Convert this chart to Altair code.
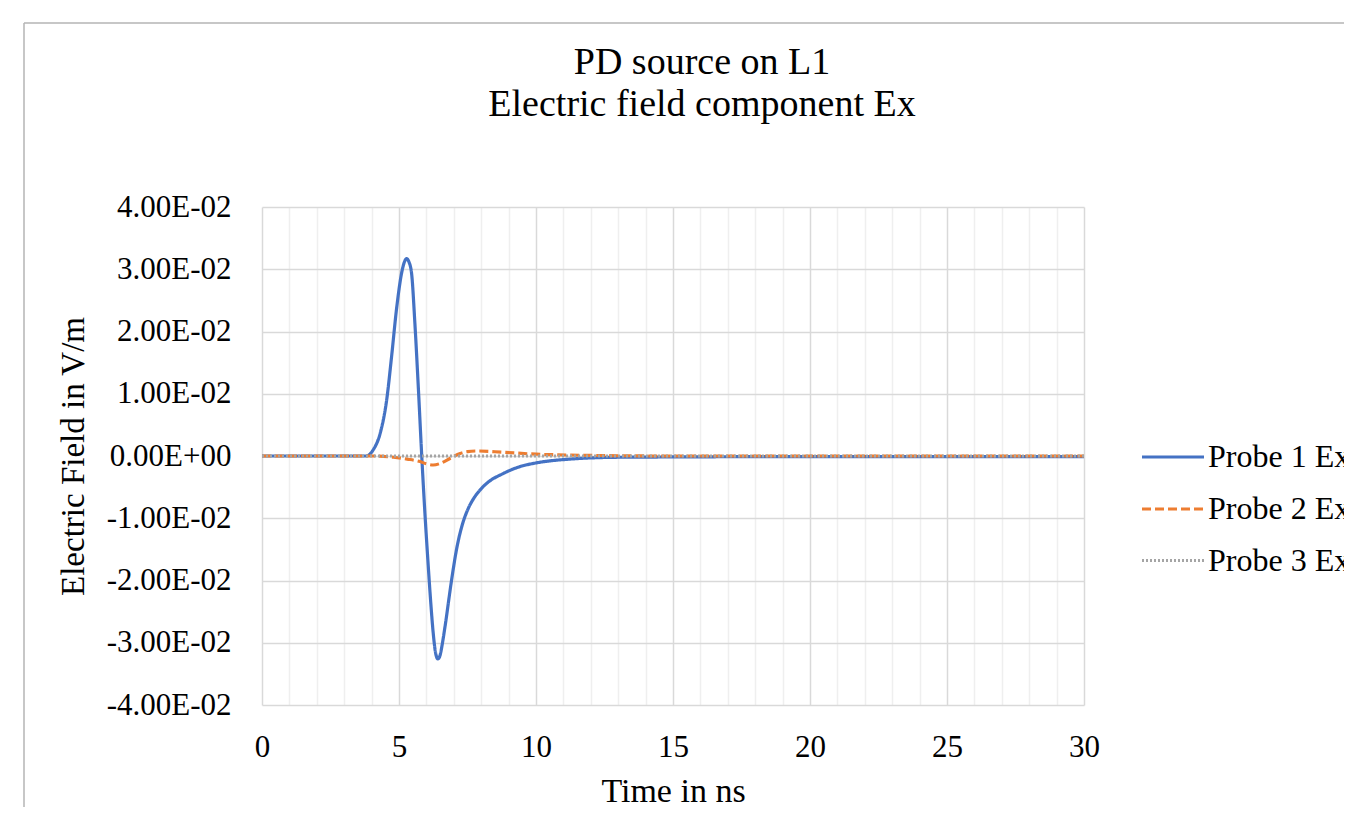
import altair as alt
import pandas as pd

# ---- data (values in V/m, time in ns) ----
probe1_t = [0, 3.0, 3.8, 4.06, 4.31, 4.55, 4.73, 4.92, 5.1, 5.2, 5.28, 5.36, 5.46, 5.58,
            5.71, 5.83, 5.95, 6.05, 6.15, 6.25, 6.33, 6.42, 6.5, 6.58, 6.68, 6.92, 7.10,
            7.3, 7.5, 7.7, 7.95, 8.20, 8.81, 9.42, 10.02, 11.24, 13.07, 20, 30]
probe1_v = [0, 0, 0.0, 0.0010, 0.0036, 0.0090, 0.0160, 0.0240, 0.0295, 0.0312, 0.0317,
            0.0312, 0.0293, 0.0213, 0.0106, 0.0, -0.0095, -0.0165, -0.0230, -0.0285,
            -0.0315, -0.0326, -0.0320, -0.0302, -0.0274, -0.0199, -0.0150,
            -0.0112, -0.0087, -0.0070, -0.0055, -0.0044, -0.0028, -0.0017, -0.0011,
            -0.0005, -0.0002, -0.0001, -0.0001]

probe2_t = [0, 4.0, 4.8, 5.3, 5.77, 6.0, 6.25, 6.5, 6.86, 7.23, 7.5, 7.83, 8.8, 10.0,
            11.2, 13, 15, 30]
probe2_v = [0, 0, -0.0002, -0.0005, -0.0009, -0.00125, -0.00145, -0.0012, -0.0004,
            0.0004, 0.0007, 0.0008, 0.0006, 0.0003, 0.00016, 0.00005, 0, 0]

probe3_t = [0, 30]
probe3_v = [0, 0]

series = ["Probe 1 Ex", "Probe 2 Ex", "Probe 3 Ex"]
colors = ["#4472c4", "#ed7d31", "#a5a5a5"]
dashes = [[1, 0], [9, 4], [2, 2]]

y_ticks = [-0.04, -0.03, -0.02, -0.01, 0, 0.01, 0.02, 0.03, 0.04]
x_ticks = list(range(0, 31))

rows = []
for name, ts, vs in zip(series, [probe1_t, probe2_t, probe3_t], [probe1_v, probe2_v, probe3_v]):
    for t, v in zip(ts, vs):
        rows.append({"series": name, "t": t, "v": v})
df = pd.DataFrame(rows)

FONT = "Liberation Serif"

lines = alt.Chart(df).mark_line(interpolate="monotone").encode(
    x=alt.X("t:Q", scale=alt.Scale(domain=[0, 30], nice=False),
            axis=alt.Axis(values=x_ticks,
                          labelExpr="datum.value % 5 === 0 ? datum.label : ''",
                          labelFlush=False,
                          title="Time in ns", titleX=411, titleY=86,
                          titleBaseline="middle", titleFontSize=34,
                          labelPadding=27, ticks=False, domain=False,
                          gridColor={"condition": {"test": "datum.value % 5 === 0", "value": "#d9d9d9"},
                                     "value": "#efefef"})),
    y=alt.Y("v:Q", scale=alt.Scale(domain=[-0.04, 0.04], nice=False),
            axis=alt.Axis(values=y_ticks,
                          labelExpr="datum.value == 0 ? '0.00E+00' : (datum.value < 0 ? '-' : '') + format(abs(datum.value) * 100, '.2f') + 'E-02'",
                          labelFlush=False,
                          title="Electric  Field  in  V/m", titleX=-189, titleY=249,
                          titleBaseline="middle", titleAngle=-90, titleAlign="center",
                          titleFontSize=33,
                          labelPadding=31, ticks=False, domain=False, gridColor="#d9d9d9")),
    color=alt.Color("series:N", scale=alt.Scale(domain=series, range=colors),
                    legend=alt.Legend(title=None, orient="none", legendX=878, legendY=217,
                                      symbolType="stroke", symbolSize=3844, symbolStrokeWidth=3,
                                      labelOffset=2, rowPadding=3,
                                      labelFont=FONT, labelFontSize=32, labelColor="black")),
    strokeDash=alt.StrokeDash("series:N", scale=alt.Scale(domain=series, range=dashes), legend=None),
    strokeWidth=alt.StrokeWidth("series:N", scale=alt.Scale(domain=series, range=[3.2, 3, 1.5]), legend=None),
    order=alt.Order("series:N", sort="descending"),
)

frame_df = pd.DataFrame({"a": [0]})
frame_left = alt.Chart(frame_df).mark_rule(color="#b4b4b4", strokeWidth=1.5, clip=False).encode(
    x=alt.value(-238), y=alt.value(-184), y2=alt.value(700))
frame_top = alt.Chart(frame_df).mark_rule(color="#b4b4b4", strokeWidth=1.5, clip=False).encode(
    x=alt.value(-238), x2=alt.value(1200), y=alt.value(-184))

chart = alt.layer(frame_left, frame_top, lines).properties(
    width=822, height=498,
    autosize=alt.AutoSizeParams(type="none"),
    padding={"left": 254, "top": 199, "right": 260, "bottom": 102},
    title=alt.TitleParams(text=["PD source on L1", "Electric field component Ex"],
                          font=FONT, fontSize=38, fontWeight="normal", color="black",
                          lineHeight=42, anchor="middle", dx=29, offset=0, dy=132,
                          baseline="alphabetic"),
).configure_axis(
    labelFont=FONT, labelFontSize=31, labelColor="black",
    titleFont=FONT, titleColor="black", titleFontWeight="normal",
    gridWidth=1.5,
).configure_view(strokeWidth=0)

chart.save("out.html", embed_options={"renderer": "svg", "actions": False})
